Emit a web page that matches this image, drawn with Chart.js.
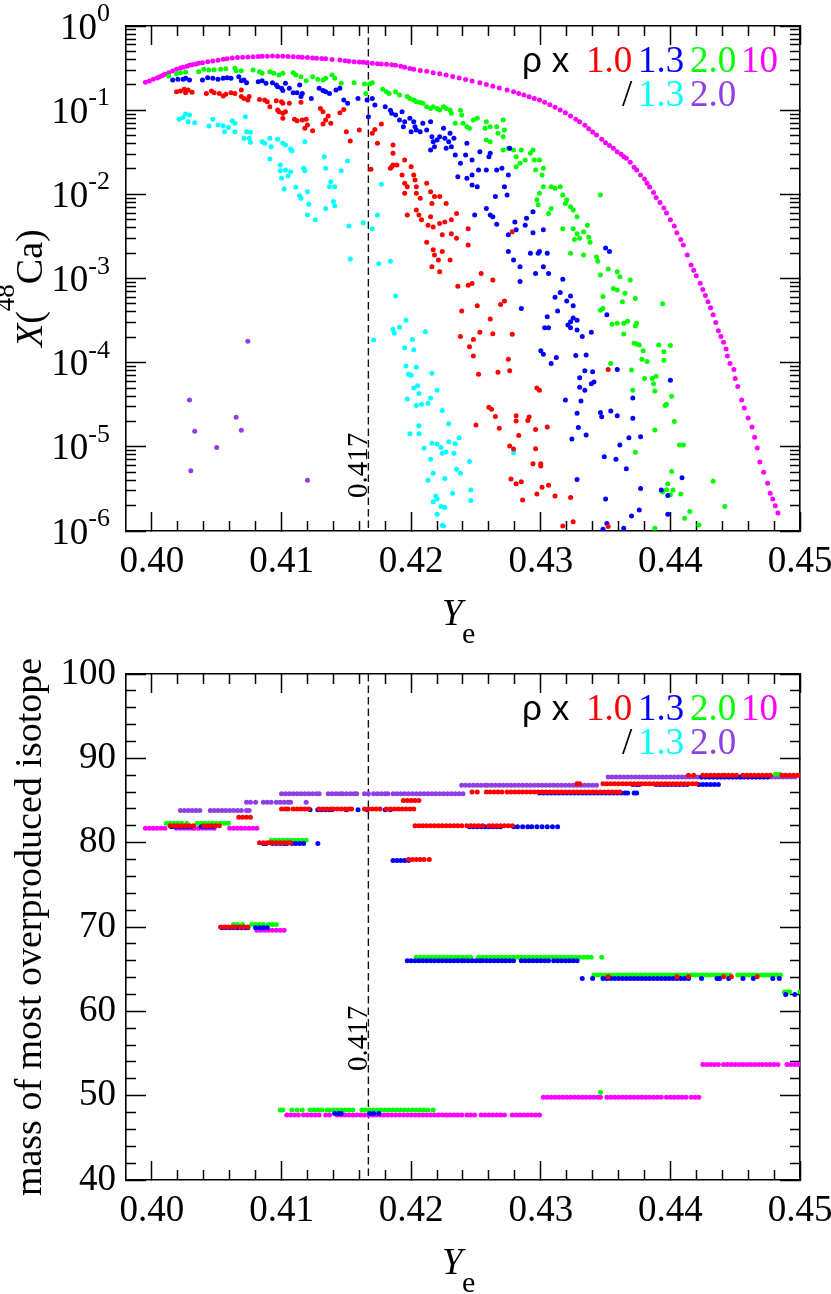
<!DOCTYPE html>
<html>
<head>
<meta charset="utf-8">
<script src="https://cdn.jsdelivr.net/npm/chart.js@4.4.1/dist/chart.umd.min.js"></script>
<style>
  html, body { margin: 0; padding: 0; background: #fff; }
  #wrap { position: relative; width: 831px; height: 1294px; }
  canvas { position: absolute; left: 0; }
</style>
</head>
<body>
<div id="wrap">
  <canvas id="topChart" width="831" height="647" style="top:0"></canvas>
  <canvas id="bottomChart" width="831" height="647" style="top:647px"></canvas>
</div>
<script>
// ---- series: X(48Ca) vs Ye, [Ye, X] ----
const x48Rho1_0 = [
  [0.4019,0.166],[0.4022,0.169],[0.4025,0.177],[0.4028,0.174],[0.4026,0.161],[0.4031,0.163],
  [0.4042,0.158],[0.4046,0.169],[0.4048,0.161],[0.4052,0.158],[0.4055,0.147],[0.4057,0.155],[0.4061,0.161],[0.4064,0.158],
  [0.4069,0.174],[0.4069,0.145],[0.4071,0.138],[0.4074,0.132],[0.4075,0.145],
  [0.4083,0.134],[0.4087,0.132],[0.4089,0.126],[0.4091,0.11],[0.4096,0.129],[0.4100,0.126],[0.4101,0.121],[0.4106,0.121],
  [0.4097,0.1005],[0.4098,0.096],[0.4101,0.092],[0.4103,0.096],[0.4101,0.080],[0.4115,0.124],
  [0.4110,0.078],[0.4112,0.075],[0.4116,0.0764],[0.4119,0.078],[0.4120,0.0667],[0.4118,0.061],[0.4124,0.057],
  [0.4130,0.105],[0.4132,0.096],[0.4136,0.085],[0.4134,0.0764],[0.4132,0.0685],[0.4138,0.0698],[0.4145,0.0933],[0.4148,0.102],
  [0.4150,0.0555],[0.4153,0.043],[0.4160,0.058],[0.4169,0.0198],[0.4170,0.0531],[0.4172,0.059],[0.4174,0.0404],[0.4177,0.0685],
  [0.4186,0.0386],[0.4186,0.0307],[0.4186,0.0223],[0.4184,0.0204],[0.4185,0.0213],[0.4189,0.0223],
  [0.4195,0.0256],[0.4193,0.017],[0.4195,0.0135],[0.4197,0.0123],[0.4200,0.0213],[0.4202,0.017],[0.4203,0.0148],[0.4204,0.0123],
  [0.4195,0.0103],[0.4204,0.0103],[0.4207,0.009],[0.4212,0.0135],[0.4215,0.0107],[0.4218,0.0094],[0.4216,0.0078],[0.4222,0.0094],[0.4227,0.0078],
  [0.4204,0.0065],[0.4197,0.0057],[0.4206,0.0057],[0.4208,0.005],[0.4215,0.0054],[0.4213,0.0043],[0.4217,0.0041],[0.4222,0.0045],[0.4226,0.0047],[0.4231,0.005],[0.4235,0.0059],
  [0.4224,0.0033],[0.4231,0.0034],[0.4235,0.003],[0.4244,0.0039],[0.4244,0.0025],[0.4212,0.0027],[0.4217,0.0022],[0.4218,0.0019],[0.4224,0.0021],[0.4221,0.00166],[0.4230,0.00166],
  [0.4216,0.00138],[0.4222,0.0012],[0.4236,8.1e-4],[0.4244,8.3e-4],[0.4247,8.7e-4],[0.4254,0.00115],[0.4263,9.6e-4],[0.4278,0.0036],
  [0.4251,4.75e-4],[0.4269,4.9e-4],[0.4272,5.4e-4],[0.4239,4.1e-4],[0.4261,3.3e-4],[0.4253,2.3e-4],[0.4263,2.2e-4],[0.4278,2.17e-4],[0.4238,2.04e-4],[0.4248,1.89e-4],[0.4245,1.55e-4],[0.4248,1.2e-4],[0.4275,1.1e-4],[0.4276,8.0e-5],[0.4267,7.7e-5],[0.4252,7.3e-5],
  [0.4297,5.0e-5],[0.4299,4.7e-5],[0.4260,2.95e-5],[0.4262,2.8e-5],[0.4265,2.3e-5],[0.4281,2.34e-5],[0.4281,2.03e-5],[0.4290,2.05e-5],[0.4291,2.26e-5],[0.4250,1.82e-5],[0.4268,1.66e-5],[0.4283,1.36e-5],[0.4296,1.61e-5],[0.4305,1.72e-5],
  [0.4276,1.02e-5],[0.4279,9.4e-6],[0.4296,9.5e-6],[0.4294,6.3e-6],[0.4300,6.3e-6],[0.4300,5.9e-6],[0.4277,4.15e-6],[0.4281,3.65e-6],[0.4285,3.85e-6],[0.4301,3.3e-6],[0.4297,2.75e-6],[0.4286,2.33e-6],
  [0.4311,2.6e-6],[0.4323,2.5e-6],[0.4306,3.5e-6],[0.4317,1.15e-6],[0.4325,1.29e-6],[0.4352,8.3e-5],[0.4352,1.13e-6]
];
const x48Rho1_3 = [
  [0.4016,0.228],[0.4020,0.233],[0.4024,0.233],[0.4026,0.239],[0.4029,0.228],
  [0.4039,0.228],[0.4043,0.243],[0.4047,0.239],[0.4051,0.233],[0.4055,0.239],[0.4058,0.243],[0.4061,0.239],
  [0.4067,0.25],[0.4069,0.224],[0.4071,0.228],[0.4073,0.212],
  [0.4082,0.218],[0.4085,0.224],[0.4088,0.209],[0.4093,0.212],[0.4096,0.199],[0.4097,0.19],[0.4100,0.182],[0.4101,0.171],[0.4103,0.209],[0.4106,0.182],
  [0.4109,0.161],[0.4112,0.161],[0.4116,0.158],[0.4114,0.199],[0.4115,0.145],[0.4123,0.138],
  [0.4129,0.182],[0.4132,0.171],[0.4134,0.166],[0.4137,0.158],[0.4142,0.174],[0.4145,0.182],
  [0.4148,0.132],[0.4151,0.121],[0.4159,0.138],[0.4166,0.132],[0.4170,0.138],[0.4172,0.115],[0.4167,0.0837],
  [0.4180,0.11],[0.4184,0.1],[0.4188,0.0877],[0.4185,0.092],[0.4193,0.096],[0.4191,0.0764],[0.4195,0.073],[0.4194,0.0637],[0.4199,0.080],[0.4202,0.073],[0.4203,0.0637],[0.4204,0.058],[0.4200,0.0555],[0.4207,0.0555],[0.4209,0.0698],[0.4212,0.058],[0.4215,0.073],[0.4216,0.0484],[0.4217,0.0422],[0.4218,0.0368],[0.4220,0.0442],[0.4222,0.0484],[0.4225,0.061],[0.4226,0.0463],[0.4229,0.0422],[0.4230,0.0531],[0.4233,0.0463],[0.4231,0.0368],[0.4227,0.0352],[0.4215,0.0336],
  [0.4234,0.0293],[0.4238,0.0234],[0.4242,0.0293],[0.4243,0.0404],[0.4247,0.0256],[0.4252,0.0195],[0.4253,0.0321],[0.4236,0.0162],[0.4243,0.0155],[0.4247,0.017],[0.4247,0.0129],[0.4251,0.0123],
  [0.4260,0.028],[0.4258,0.0195],[0.4266,0.0195],[0.4270,0.0204],[0.4275,0.017],[0.4261,0.0307],[0.4276,0.0352],
  [0.4265,0.0094],[0.4274,0.0098],[0.4272,0.0123],
  [0.4249,0.0057],[0.4258,0.0068],[0.4261,0.0057],[0.4263,0.0054],[0.4266,0.0044],[0.4280,0.0047],[0.4281,0.0038],[0.4288,0.0043],[0.4289,0.0052],[0.4294,0.0062],[0.4302,0.0038],[0.4294,0.0035],
  [0.4275,0.0033],[0.4275,0.0021],[0.4279,0.00166],[0.4284,0.00138],[0.4292,0.002],[0.4298,0.002],[0.4299,0.0021],[0.4305,0.002],[0.4296,0.00115],[0.4302,0.00138],[0.4306,0.00115],[0.4284,9.2e-4],[0.4317,9.8e-4],[0.4350,0.0023],[0.4353,0.0021],
  [0.4315,6.8e-4],[0.4311,6.0e-4],[0.4323,6.2e-4],[0.4320,5.4e-4],[0.4325,4.75e-4],[0.4313,4.1e-4],[0.4285,4.4e-4],
  [0.4305,3.5e-4],[0.4323,3.07e-4],[0.4325,3.4e-4],[0.4328,3.2e-4],[0.4321,2.8e-4],[0.4323,2.6e-4],[0.4328,2.44e-4],[0.4339,2.3e-4],[0.4332,2.04e-4],[0.4303,2.6e-4],[0.4306,2.6e-4],
  [0.4300,1.39e-4],[0.4302,1.26e-4],[0.4312,1.15e-4],[0.4308,9.8e-5],[0.4327,1.22e-4],[0.4335,1.23e-4],
  [0.4334,8.0e-5],[0.4340,7.8e-5],[0.4330,6.6e-5],[0.4330,5.1e-5],[0.4334,4.7e-5],[0.4339,5.6e-5],[0.4341,5.9e-5],[0.4351,3.7e-4],
  [0.4319,3.6e-5],[0.4331,3.5e-5],[0.4328,2.5e-5],[0.4329,1.7e-5],[0.4335,1.38e-5],[0.4324,1.24e-5],
  [0.4346,2.55e-5],[0.4347,2.28e-5],[0.4354,2.67e-5],[0.4359,2.34e-5],[0.4371,2.18e-5],[0.4371,3.8e-5],[0.4359,8.3e-5],[0.4400,6.2e-5],
  [0.4368,1.28e-5],[0.4377,1.32e-5],[0.4361,1.05e-5],[0.4349,7.6e-6],[0.4358,7.1e-6],[0.4366,5.5e-6],[0.4328,4.1e-6],
  [0.4377,3.2e-6],[0.4393,3.07e-6],[0.4398,2.65e-6],[0.4350,2.4e-6],[0.4409,4.3e-6],
  [0.4376,1.78e-6],[0.4370,1.51e-6],[0.4398,1.58e-6],[0.4351,1.23e-6],[0.4364,1.08e-6],[0.4348,1.05e-6]
];
const x48Rho2_0 = [
  [0.4013,0.255],[0.4019,0.269],[0.4022,0.279],[0.4026,0.284],[0.4036,0.286],[0.4040,0.306],[0.4044,0.30],[0.4048,0.302],[0.4053,0.306],[0.4057,0.311],[0.4064,0.314],[0.4065,0.294],[0.4069,0.294],[0.4078,0.30],[0.4083,0.286],[0.4085,0.274],[0.4091,0.286],[0.4094,0.274],[0.4098,0.262],[0.4101,0.274],[0.4109,0.279],[0.4111,0.262],[0.4115,0.25],[0.4119,0.224],[0.4124,0.25],[0.4128,0.233],[0.4132,0.228],[0.4134,0.239],[0.4139,0.262],[0.4141,0.239],[0.4146,0.209],[0.4156,0.212],[0.4164,0.205],[0.4165,0.158],[0.4168,0.205],[0.4170,0.212],[0.4178,0.177],[0.4181,0.166],[0.4183,0.158],[0.4188,0.166],
  [0.4191,0.151],[0.4197,0.145],[0.4199,0.138],[0.4202,0.132],[0.4204,0.126],[0.4207,0.123],[0.4209,0.121],[0.4212,0.11],[0.4215,0.105],[0.4217,0.11],[0.4220,0.105],[0.4222,0.1005],[0.4225,0.11],[0.4227,0.105],[0.4230,0.1005],[0.4231,0.092],[0.4238,0.1],[0.4239,0.0877],[0.4234,0.0698],[0.4240,0.0698],[0.4243,0.0637],[0.4245,0.061],[0.4248,0.0764],[0.4251,0.080],
  [0.4258,0.073],[0.4257,0.061],[0.4261,0.0637],[0.4258,0.0442],[0.4261,0.0422],[0.4266,0.0637],[0.4267,0.0531],[0.4271,0.0764],[0.4272,0.058],[0.4271,0.0484],
  [0.4271,0.0336],[0.4275,0.0352],[0.4279,0.0336],[0.4281,0.028],[0.4285,0.0336],[0.4284,0.0234],[0.4281,0.0213],[0.4288,0.0256],[0.4292,0.0307],[0.4294,0.0336],[0.4295,0.0256],[0.4296,0.0195],[0.4299,0.0256],[0.4302,0.0204],[0.4301,0.017],
  [0.4302,0.0123],[0.4299,0.0103],[0.4297,0.0086],[0.4298,0.0075],[0.4308,0.0123],[0.4311,0.0118],[0.4315,0.0123],[0.4317,0.0098],[0.4320,0.0086],[0.4319,0.0078],[0.4323,0.0071],[0.4325,0.0065],[0.4328,0.0054],[0.4306,0.0059],[0.4308,0.0068],
  [0.4317,0.0039],[0.4325,0.0039],[0.4328,0.0034],[0.4326,0.0029],[0.4330,0.003],[0.4333,0.0036],[0.4336,0.0043],[0.4338,0.0027],[0.4337,0.0031],
  [0.4323,0.002],[0.4333,0.0019],[0.4343,0.0018],[0.4344,0.0016],[0.4346,0.0011],[0.4352,0.0013],[0.4359,0.0012],[0.4361,0.00105],[0.4369,9.6e-4],[0.4356,7.6e-4],[0.4359,7.3e-4],[0.4346,0.0098],
  [0.4365,6.7e-4],[0.4363,5.3e-4],[0.4373,5.8e-4],[0.4348,6.1e-4],[0.4348,4.4e-4],[0.4346,4.2e-4],[0.4394,5.0e-4],
  [0.4355,2.86e-4],[0.4359,2.94e-4],[0.4364,2.94e-4],[0.4367,3.1e-4],[0.4374,2.94e-4],[0.4373,2.73e-4],[0.4364,2.19e-4],
  [0.4372,1.7e-4],[0.4374,1.67e-4],[0.4376,1.62e-4],[0.4379,1.39e-4],[0.4378,1.1e-4],[0.4382,1.03e-4],[0.4391,1.62e-4],[0.4395,1.35e-4],[0.4400,1.6e-4],[0.4395,1.07e-4],
  [0.4354,9.8e-5],[0.4370,8.2e-5],[0.4380,6.5e-5],[0.4386,6.5e-5],[0.4389,6.9e-5],[0.4387,5.6e-5],[0.4388,4.6e-5],[0.4371,4.7e-5],[0.4401,4.0e-5],[0.4397,3.2e-5],[0.4396,3.1e-5],[0.4403,2.0e-5],[0.4388,1.58e-5],
  [0.4407,1.05e-5],[0.4410,1.05e-5],[0.4373,8.6e-6],[0.4401,5.1e-6],[0.4398,3.65e-6],[0.4397,3.1e-6],[0.4402,3.07e-6],[0.4394,2.9e-6],[0.4400,2.7e-6],[0.4408,2.75e-6],[0.4433,3.9e-6],
  [0.4415,1.7e-6],[0.4411,1.42e-6],[0.4422,1.18e-6],[0.4388,1.08e-6],[0.4442,1.95e-6]
];
const x48Rho10 = [
  [0.3995,0.214],[0.3998,0.222],[0.4001,0.233],[0.4004,0.241],[0.4006,0.25],[0.4008,0.258],[0.4010,0.267],[0.4013,0.278],[0.4016,0.292],[0.4019,0.306],[0.4022,0.316],[0.4024,0.323],[0.4027,0.333],[0.4029,0.341],[0.4031,0.347],[0.4034,0.354],[0.4036,0.360],[0.4039,0.366],[0.4043,0.375],[0.4047,0.384],[0.4051,0.393],[0.4055,0.402],[0.4058,0.409],[0.4062,0.417],[0.4066,0.421],[0.4070,0.425],[0.4074,0.429],[0.4078,0.432],[0.4082,0.434],[0.4085,0.436],[0.4089,0.438],[0.4093,0.44],[0.4097,0.438],[0.4101,0.436],[0.4105,0.434],[0.4109,0.432],[0.4113,0.428],[0.4116,0.425],[0.4120,0.421],[0.4124,0.418],[0.4127,0.415],[0.4131,0.411],[0.4134,0.408],[0.4139,0.401],[0.4145,0.394],[0.4149,0.387],[0.4152,0.381],[0.4156,0.377],[0.4160,0.374],[0.4163,0.371],[0.4166,0.367],[0.4170,0.36],[0.4174,0.357],[0.4177,0.354],[0.4181,0.351],[0.4185,0.346],[0.4188,0.341],
  [0.4192,0.333],[0.4195,0.323],[0.4199,0.313],[0.4202,0.306],[0.4207,0.297],[0.4212,0.289],[0.4217,0.279],[0.4222,0.270],[0.4227,0.262],[0.4232,0.251],[0.4237,0.241],[0.4242,0.232],[0.4247,0.222],[0.4253,0.212],[0.4258,0.202],[0.4263,0.193],[0.4268,0.184],[0.4274,0.174],[0.4279,0.166],[0.4283,0.158],[0.4287,0.151],[0.4291,0.144],[0.4295,0.138],[0.4299,0.132],[0.4303,0.124],[0.4307,0.116],[0.4311,0.108],[0.4315,0.1005],[0.4319,0.093],[0.4323,0.085],[0.4327,0.078],[0.4330,0.073],[0.4334,0.066],[0.4337,0.06],[0.4340,0.055],[0.4343,0.0507],[0.4347,0.045],[0.4350,0.041],[0.4353,0.038],[0.4356,0.0352],[0.4359,0.032],[0.4362,0.030],[0.4364,0.028],[0.4366,0.0268],[0.4369,0.024],[0.4372,0.021],[0.4374,0.0195],[0.4377,0.017],[0.4380,0.0152],[0.4382,0.0135],[0.4384,0.0122],[0.4387,0.0105],[0.4389,0.0092],[0.4392,0.0080],[0.4395,0.0069],[0.4397,0.006],[0.4400,0.0050],[0.4403,0.0042],[0.4405,0.0035],[0.4408,0.0029],[0.4410,0.0025],[0.4413,0.0019],[0.4416,0.00145],[0.4418,0.00125],[0.4420,0.00108],[0.4423,8.8e-4],[0.4425,7.4e-4],[0.4427,6.3e-4],[0.4429,5.3e-4],[0.4431,4.5e-4],[0.4433,3.7e-4],[0.4435,3.0e-4],[0.4437,2.4e-4],[0.4439,2.05e-4],[0.4441,1.75e-4],[0.4443,1.45e-4],[0.4444,1.2e-4],[0.4446,9.8e-5],[0.4449,8.3e-5],[0.4450,6.5e-5],[0.4452,5.2e-5],[0.4455,3.6e-5],[0.4457,2.9e-5],[0.4460,2.2e-5],[0.4463,1.72e-5],[0.4465,1.3e-5],[0.4467,9.7e-6],[0.4469,6.6e-6],[0.4472,5.0e-6],[0.4475,3.7e-6],[0.4477,2.8e-6],[0.4479,2.4e-6],[0.4481,2.0e-6],[0.4483,1.64e-6]
];
const x48Div1_3 = [
  [0.4021,0.078],[0.4024,0.082],[0.4026,0.09],[0.4029,0.0877],[0.4028,0.073],[0.4033,0.071],[0.4044,0.0648],[0.4047,0.078],[0.4051,0.0667],[0.4055,0.0655],[0.4056,0.0555],[0.4059,0.0621],[0.4062,0.075],[0.4064,0.0698],[0.4064,0.0555],[0.4072,0.0837],
  [0.4071,0.0463],[0.4073,0.0555],[0.4076,0.0545],[0.4076,0.0415],[0.4075,0.0463],[0.4085,0.0422],[0.4087,0.0404],[0.4091,0.0463],[0.4092,0.0368],[0.4097,0.045],[0.4101,0.0404],[0.4103,0.0386],[0.4107,0.0345],[0.4108,0.033],[0.4118,0.0422],[0.4091,0.0263],
  [0.4099,0.0223],[0.4099,0.0191],[0.4100,0.0155],[0.4102,0.0116],[0.4103,0.0195],[0.4105,0.0165],[0.4107,0.0185],[0.4117,0.0204],[0.4118,0.0191],[0.4133,0.028],[0.4134,0.0204],[0.4146,0.0191],[0.4151,0.0249],
  [0.4111,0.0121],[0.4114,0.0096],[0.4115,0.009],[0.4120,0.0107],[0.4121,0.0076],[0.4134,0.0068],[0.4137,0.0123],[0.4141,0.0123],[0.4138,0.0141],[0.4140,0.0082],[0.4141,0.0073],
  [0.4120,0.0057],[0.4126,0.005],[0.4152,0.0042],[0.4163,0.0046],[0.4170,0.0039],[0.4174,0.0057],[0.4177,0.0132],
  [0.4153,0.0017],[0.4175,0.0015],[0.4184,0.0016],[0.4188,6.2e-4],[0.4196,3.2e-4],[0.4186,2.5e-4],
  [0.4171,1.86e-4],[0.4187,2.23e-4],[0.4191,2.63e-4],[0.4211,2.33e-4],[0.4201,1.89e-4],[0.4195,1.5e-4],[0.4202,1.42e-4],
  [0.4196,9.1e-5],[0.4198,7.3e-5],[0.4200,7.1e-5],[0.4204,8.8e-5],[0.4216,7.5e-5],[0.4202,5.0e-5],[0.4205,5.3e-5],[0.4206,4.3e-5],[0.4204,3.1e-5],[0.4208,3.2e-5],[0.4213,3.3e-5],[0.4215,3.8e-5],[0.4220,4.7e-5],[0.4197,3.7e-5],
  [0.4224,2.7e-5],[0.4229,1.88e-5],[0.4206,1.78e-5],[0.4199,1.43e-5],[0.4206,1.43e-5],[0.4210,9.6e-6],[0.4216,1.1e-5],[0.4220,1.08e-5],[0.4223,9.8e-6],[0.4224,8.4e-6],[0.4227,8.7e-6],[0.4229,1.15e-5],[0.4233,8.4e-6],[0.4234,1.09e-5],[0.4237,1.28e-5],[0.4215,7.1e-6],
  [0.4245,6.7e-6],[0.4235,5.4e-6],[0.4238,4.85e-6],[0.4217,4.85e-6],[0.4213,4.0e-6],[0.4226,4.2e-6],[0.4232,2.8e-6],[0.4246,3.07e-6],[0.4246,2.3e-6],
  [0.4219,2.6e-6],[0.4217,2.23e-6],[0.4220,2.4e-6],[0.4223,1.95e-6],[0.4226,1.9e-6],[0.4220,1.58e-6],[0.4224,1.17e-6],[0.4225,1.15e-6],[0.4279,8.5e-6]
];
const x48Div2_0 = [
  [0.4029,3.6e-5],[0.4033,1.53e-5],[0.4030,5.2e-6],[0.4050,9.8e-6],[0.4065,2.24e-5],[0.4069,1.57e-5],[0.4074,1.8e-4],[0.4120,4.0e-6]
];

// ---- series: mass of most overproduced isotope vs Ye, [mass, [Ye...]] ----
const massRho1_0 = [
  [82.0, [0.4014,0.4017,0.4020,0.4023,0.4026,0.4029,0.4032,0.4040,0.4043,0.4046,0.4049,0.4052]],
  [82.0, [0.4203,0.4206,0.4209,0.4212,0.4215,0.4218,0.4221,0.4224,0.4227,0.4230,0.4233,0.4236,0.4239,0.4243,0.4246,0.4249,0.4252,0.4255,0.4260,0.4263,0.4266,0.4269,0.4272,0.4275,0.4278]],
  [83.0, [0.4067,0.4070,0.4073,0.4076]],
  [80.0, [0.4083,0.4086,0.4089,0.4091,0.4093,0.4096,0.4099,0.4102,0.4105,0.4107]],
  [70.0, [0.4053,0.4056,0.4059,0.4062,0.4064,0.4068,0.4071,0.4074]],
  [84.0, [0.4100,0.4103,0.4105,0.4109,0.4112,0.4115,0.4118,0.4121,0.4129,0.4132,0.4135,0.4138,0.4140,0.4143,0.4146,0.4149,0.4152,0.4154,0.4164,0.4167,0.4170,0.4173,0.4176,0.4181,0.4184,0.4187,0.4190,0.4193,0.4196,0.4199,0.4202]],
  [85.0, [0.4194,0.4197,0.4200,0.4203,0.4206]],
  [78.0, [0.4198,0.4201,0.4204,0.4207,0.4210,0.4214]],
  [86.0, [0.4247,0.4251,0.4258,0.4261,0.4264,0.4267,0.4270,0.4274,0.4277,0.4280,0.4283,0.4286,0.4289,0.4292,0.4295,0.4298,0.4301,0.4304,0.4307,0.4310,0.4313,0.4316,0.4319,0.4322,0.4325,0.4328,0.4331,0.4334,0.4337,0.4340,0.4343,0.4346,0.4349,0.4352,0.4355,0.4358,0.4361]],
  [87.0, [0.4328,0.4330,0.4348,0.4351,0.4354,0.4357,0.4360,0.4363,0.4366,0.4369,0.4372,0.4375,0.4378,0.4381,0.4384,0.4387,0.4390,0.4393,0.4396,0.4399,0.4402,0.4405,0.4408,0.4411,0.4414,0.4417,0.4420]],
  [88.0, [0.4414,0.4418,0.4425,0.4428,0.4431,0.4434,0.4437,0.4440,0.4442,0.4445,0.4448,0.4451,0.4456,0.4459,0.4462,0.4465,0.4468,0.4471,0.4474,0.4477,0.4486,0.4489,0.4492,0.4495,0.4498,0.4500]],
  [64.1, [0.4352,0.4405,0.4414,0.4441,0.4447,0.4467]]
];
const massRho1_3 = [
  [81.9, [0.4015,0.4018,0.4021,0.4024,0.4027,0.4030,0.4038,0.4041,0.4044,0.4047]],
  [81.9, [0.4245,0.4248,0.4251,0.4254,0.4257,0.4260,0.4263,0.4266,0.4269,0.4279,0.4282,0.4286,0.4290,0.4293,0.4297,0.4301,0.4305,0.4309,0.4313]],
  [79.9, [0.4086,0.4088,0.4093,0.4096,0.4099,0.4102,0.4104,0.4108,0.4111,0.4114,0.4117,0.4128]],
  [69.9, [0.4054,0.4057,0.4060,0.4063,0.4066,0.4069,0.4072,0.4074,0.4080,0.4083,0.4086,0.4089]],
  [83.9, [0.4122,0.4128,0.4131,0.4134,0.4137,0.4139,0.4150,0.4159,0.4166,0.4180,0.4184]],
  [77.9, [0.4186,0.4189,0.4192,0.4195,0.4198]],
  [85.9, [0.4299,0.4302,0.4305,0.4308,0.4311,0.4314,0.4317,0.4320,0.4323,0.4326,0.4329,0.4332,0.4335,0.4338,0.4341,0.4344,0.4347,0.4350,0.4353,0.4356,0.4359,0.4362,0.4365,0.4367,0.4372,0.4374]],
  [86.9, [0.4371,0.4374,0.4376,0.4389,0.4392,0.4395,0.4398,0.4401,0.4404,0.4407,0.4410,0.4413,0.4422,0.4425,0.4428,0.4431,0.4434,0.4437]],
  [87.8, [0.4424,0.4427,0.4430,0.4433,0.4436,0.4439,0.4442,0.4445,0.4448,0.4451,0.4454,0.4457,0.4460,0.4463,0.4466,0.4469,0.4472,0.4475]],
  [66.0, [0.4197,0.4200,0.4203,0.4206,0.4209,0.4212,0.4215,0.4218,0.4221,0.4224,0.4227,0.4230,0.4233,0.4236,0.4239,0.4241,0.4244,0.4247,0.4250,0.4253,0.4255,0.4258,0.4261,0.4264,0.4267,0.4270,0.4273,0.4276,0.4279,0.4285,0.4288,0.4291,0.4294,0.4297,0.4300,0.4303,0.4306,0.4310,0.4313,0.4316,0.4319,0.4322,0.4325,0.4328]],
  [63.9, [0.4332,0.4340,0.4348,0.4351,0.4354,0.4357,0.4360,0.4363,0.4366,0.4369,0.4372,0.4375,0.4378,0.4381,0.4384,0.4387,0.4390,0.4393,0.4396,0.4399,0.4402,0.4405,0.4408,0.4411,0.4414,0.4424,0.4436,0.4438,0.4445,0.4456,0.4464,0.4479,0.4484]],
  [62.0, [0.4489,0.4496]],
  [47.9, [0.4141,0.4144,0.4146,0.4168,0.4171,0.4175]]
];
const massRho2_0 = [
  [82.3, [0.4011,0.4014,0.4017,0.4020,0.4023,0.4027,0.4035,0.4038,0.4041,0.4044,0.4047,0.4050,0.4053,0.4056,0.4059]],
  [80.3, [0.4092,0.4095,0.4098,0.4101,0.4104,0.4107,0.4110,0.4113,0.4116,0.4119]],
  [70.3, [0.4063,0.4066,0.4070,0.4077,0.4080,0.4083,0.4086,0.4090,0.4093,0.4096]],
  [48.3, [0.4099,0.4101,0.4108,0.4112,0.4116,0.4122,0.4125,0.4128,0.4131,0.4135,0.4137,0.4140,0.4143,0.4146,0.4149,0.4152,0.4155,0.4162,0.4165,0.4168,0.4171,0.4174,0.4177,0.4180,0.4183,0.4186,0.4189,0.4192,0.4195,0.4198,0.4201,0.4204,0.4207,0.4210,0.4213,0.4217]],
  [66.4, [0.4204,0.4207,0.4210,0.4213,0.4216,0.4219,0.4222,0.4225,0.4228,0.4231,0.4234,0.4237,0.4240,0.4243,0.4246,0.4252,0.4255,0.4258,0.4261,0.4264,0.4267,0.4270,0.4273,0.4276,0.4279,0.4282,0.4285,0.4288,0.4291,0.4294,0.4297,0.4300,0.4303,0.4306,0.4309,0.4312,0.4315,0.4318,0.4321,0.4324,0.4327,0.4330,0.4333,0.4336,0.4339,0.4347]],
  [64.3, [0.4341,0.4344,0.4347,0.4350,0.4353,0.4356,0.4359,0.4362,0.4365,0.4368,0.4371,0.4374,0.4377,0.4380,0.4383,0.4386,0.4389,0.4392,0.4395,0.4398,0.4401,0.4404,0.4407,0.4410,0.4413,0.4416,0.4419,0.4422,0.4425,0.4428,0.4431,0.4434,0.4437,0.4440,0.4443,0.4446,0.4452,0.4455,0.4458,0.4461,0.4464,0.4467,0.4470,0.4473,0.4476,0.4479,0.4482,0.4485]],
  [62.3, [0.4488,0.4490,0.4492,0.4500]],
  [88.1, [0.4481,0.4484]],
  [50.4, [0.4346]]
];
const massRho10 = [
  [81.7, [0.3995,0.3998,0.4001,0.4004,0.4007,0.4010,0.4019,0.4022,0.4025,0.4028,0.4031,0.4033,0.4036,0.4039,0.4042,0.4045,0.4048,0.4060,0.4063,0.4066,0.4069,0.4072,0.4075,0.4078,0.4081]],
  [69.6, [0.4081,0.4084,0.4087,0.4090,0.4093,0.4096,0.4099,0.4102]],
  [47.7, [0.4104,0.4107,0.4110,0.4113,0.4117,0.4120,0.4123,0.4126,0.4129,0.4134,0.4137,0.4143,0.4146,0.4149,0.4152,0.4155,0.4158,0.4161,0.4164,0.4167,0.4170,0.4173,0.4176,0.4179,0.4182,0.4185,0.4188,0.4191,0.4194,0.4197,0.4200,0.4203,0.4206,0.4209,0.4212,0.4215,0.4218,0.4221,0.4224,0.4227,0.4230,0.4233,0.4236,0.4239,0.4243,0.4246,0.4249,0.4254,0.4257,0.4260,0.4263,0.4266,0.4269,0.4272,0.4278,0.4281,0.4284,0.4287,0.4290,0.4293,0.4296,0.4299]],
  [49.8, [0.4302,0.4305,0.4308,0.4311,0.4314,0.4317,0.4320,0.4323,0.4326,0.4329,0.4332,0.4335,0.4338,0.4341,0.4344,0.4346,0.4351,0.4354,0.4357,0.4360,0.4363,0.4366,0.4369,0.4372,0.4375,0.4378,0.4381,0.4384,0.4387,0.4390,0.4393,0.4397,0.4400,0.4403,0.4406,0.4409,0.4412,0.4416,0.4419,0.4422]],
  [53.7, [0.4425,0.4428,0.4431,0.4434,0.4437,0.4441,0.4444,0.4447,0.4450,0.4453,0.4456,0.4459,0.4462,0.4465,0.4468,0.4471,0.4474,0.4477,0.4480,0.4483,0.4490,0.4493,0.4496,0.4499]]
];
const massDiv1_3 = [];
const massDiv2_0 = [
  [83.8, [0.4022,0.4025,0.4028,0.4031,0.4034,0.4037,0.4045,0.4048,0.4051,0.4054,0.4057,0.4060,0.4063,0.4066,0.4069,0.4073,0.4075]],
  [84.8, [0.4073,0.4076,0.4080,0.4086,0.4089,0.4092,0.4096,0.4099,0.4102,0.4105,0.4107,0.4119]],
  [85.8, [0.4100,0.4103,0.4106,0.4109,0.4112,0.4115,0.4118,0.4121,0.4124,0.4127,0.4129,0.4136,0.4139,0.4142,0.4145,0.4147,0.4150,0.4153,0.4156,0.4158,0.4164,0.4167,0.4171,0.4174,0.4177,0.4180,0.4182,0.4186,0.4189,0.4192,0.4195,0.4198,0.4201,0.4204,0.4207,0.4210,0.4213,0.4216,0.4219,0.4222,0.4225,0.4228,0.4231,0.4234,0.4237,0.4240]],
  [86.8, [0.4239,0.4242,0.4245,0.4248,0.4251,0.4254,0.4257,0.4259,0.4262,0.4265,0.4268,0.4271,0.4274,0.4277,0.4280,0.4283,0.4286,0.4289,0.4292,0.4295,0.4298,0.4301,0.4304,0.4307,0.4310,0.4313,0.4316,0.4319,0.4322,0.4325,0.4328,0.4331,0.4334,0.4337,0.4340,0.4343]],
  [87.8, [0.4352,0.4355,0.4358,0.4361,0.4364,0.4367,0.4370,0.4373,0.4376,0.4379,0.4382,0.4385,0.4388,0.4391,0.4394,0.4397,0.4400,0.4403,0.4406,0.4409,0.4412,0.4415,0.4418,0.4421,0.4424,0.4427,0.4430,0.4433,0.4436,0.4439,0.4442,0.4445,0.4448,0.4451,0.4454,0.4457,0.4460,0.4463,0.4466,0.4469,0.4472,0.4475,0.4478,0.4481,0.4484,0.4487,0.4490,0.4493,0.4496]]
];

// ---- axes / labels ----
const yeMajorTicks = [0.40, 0.41, 0.42, 0.43, 0.44, 0.45];
const yeMinorTicks = [0.402,0.404,0.406,0.408,0.412,0.414,0.416,0.418,0.422,0.424,0.426,0.428,0.432,0.434,0.436,0.438,0.442,0.444,0.446,0.448];
const x48MajorTicks = [1e-6, 1e-5, 1e-4, 1e-3, 1e-2, 1e-1, 1];
const x48MinorTicks = [];
for (let d = -6; d < 0; d++) for (let k = 2; k <= 9; k++) x48MinorTicks.push(k * Math.pow(10, d));
const massMajorTicks = [40, 50, 60, 70, 80, 90, 100];
const massMinorTicks = [42,44,46,48,52,54,56,58,62,64,66,68,72,74,76,78,82,84,86,88,92,94,96,98];
const markYe = 0.4167;
const markLabel = '0.417';
const legendTop = ['1.0', '1.3', '2.0', '10'];
const legendBottom = ['1.3', '2.0'];

const RED = '#ff0000', BLUE = '#0000ff', GREEN = '#00ff00', MAGENTA = '#ff00ff', CYAN = '#00ffff', PURPLE = '#8f3fe6';
const SERIF = '"Liberation Serif", "Times New Roman", serif';
const SANS = '"Liberation Sans", Arial, sans-serif';

Chart.defaults.font.family = SERIF;

function pairs(arr) { return arr.map(p => ({ x: p[0], y: p[1] })); }
function strips(groups) { return groups.flatMap(g => g[1].map(x => ({ x: x, y: g[0] }))); }

function makeSets(list) {
  const colors = [RED, BLUE, GREEN, MAGENTA, CYAN, PURPLE];
  return list.map((data, i) => ({
    data: data,
    backgroundColor: colors[i],
    borderColor: colors[i],
    pointRadius: 2.5,
    pointBorderWidth: 0,
    pointHoverRadius: 2.5
  }));
}

// tick-only helper axis (inside ticks, no labels)
function tickAxis(type, position, min, max, ticks, len, weight) {
  return {
    type: type, position: position, min: min, max: max, weight: weight, bounds: 'data',
    afterBuildTicks: s => { s.ticks = ticks.map(v => ({ value: v })); },
    ticks: { display: false },
    grid: { drawOnChartArea: false, tickLength: len, tickWidth: 1.5, tickColor: '#000', color: '#000' },
    border: { display: false },
    afterFit: s => { if (s.isHorizontal()) s.height = 0; else s.width = 0; }
  };
}
const frame = { display: true, color: '#000', width: 1.6 };

function buildScales(yType, yMin, yMax, yMajor, yMinor, xHeight, yLabels) {
  const x = tickAxis('linear', 'bottom', 0.398, 0.45, yeMajorTicks, -19, 1);
  x.ticks = { display: true, autoSkip: false, maxRotation: 0, minRotation: 0, padding: 28, color: '#000',
    font: { family: SERIF, size: 37, lineHeight: 1.2 }, callback: v => Number(v).toFixed(2) };
  x.border = frame;
  x.afterFit = s => { s.height = xHeight; s.paddingLeft = 0; s.paddingRight = 0; };
  const xTop = tickAxis('linear', 'top', 0.398, 0.45, yeMajorTicks, -19, 0);
  xTop.border = frame;
  const y = tickAxis(yType, 'left', yMin, yMax, yMajor, -20, 1);
  y.border = frame;
  if (yLabels) {
    y.ticks = { display: true, autoSkip: false, padding: 30, color: '#000',
      font: { family: SERIF, size: 37, lineHeight: 1.2 }, callback: v => String(v) };
  }
  y.afterFit = s => { s.width = 126; s.paddingTop = 0; s.paddingBottom = 0; };
  const yRight = tickAxis(yType, 'right', yMin, yMax, yMajor, -20, 0);
  yRight.border = frame;
  return {
    x: x,
    xMinor: tickAxis('linear', 'bottom', 0.398, 0.45, yeMinorTicks, -10, 0),
    xTop: xTop,
    xTopMinor: tickAxis('linear', 'top', 0.398, 0.45, yeMinorTicks, -10, 0),
    y: y,
    yMinor: tickAxis(yType, 'left', yMin, yMax, yMinor, -10, 0),
    yRight: yRight,
    yRightMinor: tickAxis(yType, 'right', yMin, yMax, yMinor, -10, 0)
  };
}

function drawLegend(ctx, top) {
  const r1 = top + 46, r2 = top + 80;
  ctx.textAlign = 'left';
  ctx.textBaseline = 'alphabetic';
  ctx.fillStyle = '#000';
  ctx.font = '35px ' + SANS;
  ctx.fillText('ρ x', 522, r1);
  ctx.font = '37px ' + SERIF;
  const c1 = [RED, BLUE, GREEN, MAGENTA], x1 = [586, 638, 690, 741];
  legendTop.forEach((t, i) => { ctx.fillStyle = c1[i]; ctx.fillText(t, x1[i], r1); });
  ctx.fillStyle = '#000';
  ctx.fillText('/', 622, r2);
  const c2 = [CYAN, PURPLE], x2 = [638, 690];
  legendBottom.forEach((t, i) => { ctx.fillStyle = c2[i]; ctx.fillText(t, x2[i], r2); });
}

function decorations(opts) {
  return {
    id: 'decor',
    beforeDatasetsDraw(chart) {
      const { ctx, chartArea: a } = chart;
      const px = chart.scales.x.getPixelForValue(markYe);
      ctx.save();
      ctx.strokeStyle = '#111';
      ctx.lineWidth = 1.4;
      ctx.setLineDash([7.5, 4]);
      ctx.beginPath();
      ctx.moveTo(px, a.top);
      ctx.lineTo(px, a.bottom);
      ctx.stroke();
      ctx.restore();
    },
    afterDraw(chart) {
      const { ctx, chartArea: a } = chart;
      const px = chart.scales.x.getPixelForValue(markYe);
      ctx.save();
      ctx.fillStyle = '#000';
      ctx.textBaseline = 'alphabetic';
      // dashed-line label
      ctx.save();
      ctx.translate(px - 1, opts.markY);
      ctx.rotate(-Math.PI / 2);
      ctx.font = '29px ' + SERIF;
      ctx.textAlign = 'left';
      ctx.fillText(markLabel, 0, 0);
      ctx.restore();
      // x title: Y_e
      ctx.textAlign = 'left';
      ctx.font = 'italic 37px ' + SERIF;
      ctx.fillText('Y', 442, a.bottom + 94);
      ctx.font = '30px ' + SERIF;
      ctx.fillText('e', 462, a.bottom + 112);
      opts.yTitle(ctx, a, chart);
      drawLegend(ctx, a.top);
      ctx.restore();
    }
  };
}

// ---- top chart ----
new Chart(document.getElementById('topChart'), {
  type: 'scatter',
  data: { datasets: makeSets([x48Rho1_0, x48Rho1_3, x48Rho2_0, x48Rho10, x48Div1_3, x48Div2_0].map(pairs)) },
  options: {
    responsive: false, animation: false, events: [],
    layout: { padding: { left: 0, right: 31, top: 26, bottom: 0 } },
    plugins: { legend: { display: false }, tooltip: { enabled: false } },
    scales: buildScales('logarithmic', 1e-6, 1, x48MajorTicks, x48MinorTicks, 116, false)
  },
  plugins: [decorations({
    markY: 498,
    yTitle(ctx, a, chart) {
      // log tick labels 10^n
      const ys = chart.scales.y;
      ctx.textAlign = 'left';
      x48MajorTicks.forEach(v => {
        const py = ys.getPixelForValue(v);
        const sup = String(Math.round(Math.log10(v)));
        ctx.font = '26px ' + SERIF;
        const sw = ctx.measureText(sup).width;
        ctx.font = '37px ' + SERIF;
        const mw = ctx.measureText('10').width;
        const right = ys.right - 16;
        ctx.fillText('10', right - sw - mw, py + 12.5);
        ctx.font = '26px ' + SERIF;
        ctx.fillText(sup, right - sw, py - 5);
      });
      // y title X(48Ca)
      ctx.save();
      ctx.translate(42, 347);
      ctx.rotate(-Math.PI / 2);
      let x = 0;
      const put = (t, font, dy) => { ctx.font = font; ctx.fillText(t, x, dy); x += ctx.measureText(t).width; };
      put('X', 'italic 38px ' + SERIF, 0);
      put('(', '38px ' + SERIF, 0);
      put('48', '27px ' + SERIF, -28);
      put('Ca)', '38px ' + SERIF, 0);
      ctx.restore();
    }
  })]
});

// ---- bottom chart ----
new Chart(document.getElementById('bottomChart'), {
  type: 'scatter',
  data: { datasets: makeSets([massRho1_0, massRho1_3, massRho2_0, massRho10, massDiv1_3, massDiv2_0].map(strips)) },
  options: {
    responsive: false, animation: false, events: [],
    layout: { padding: { left: 0, right: 31, top: 27, bottom: 0 } },
    plugins: { legend: { display: false }, tooltip: { enabled: false } },
    scales: buildScales('linear', 40, 100, massMajorTicks, massMinorTicks, 114, true)
  },
  plugins: [decorations({
    markY: 424,
    yTitle(ctx, a) {
      ctx.save();
      ctx.translate(41, (a.top + a.bottom) / 2);
      ctx.rotate(-Math.PI / 2);
      ctx.textAlign = 'center';
      ctx.font = '38px ' + SERIF;
      ctx.fillText('mass of most overproduced isotope', 0, 0);
      ctx.restore();
    }
  })]
});
</script>
</body>
</html>
